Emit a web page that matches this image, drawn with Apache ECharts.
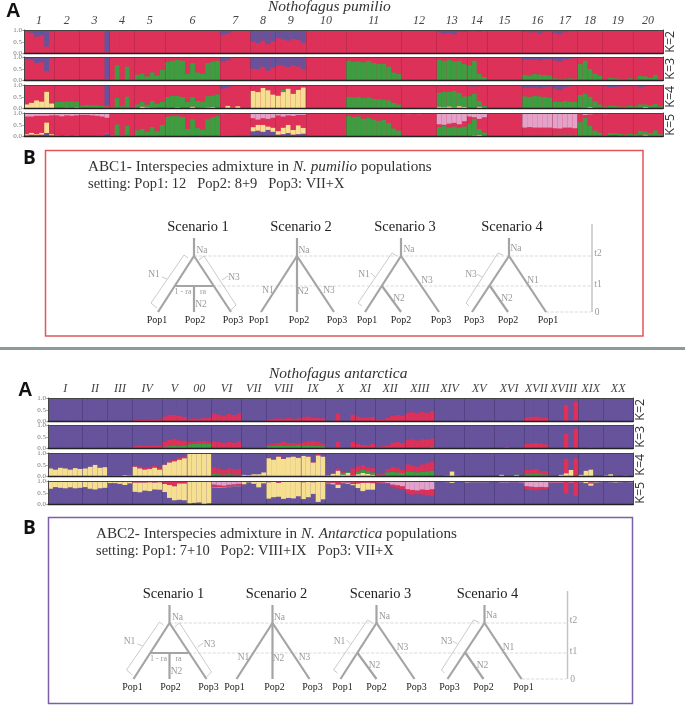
<!DOCTYPE html>
<html><head><meta charset="utf-8"><style>html,body{margin:0;padding:0;background:#fff}#c{width:685px;height:705px}</style>
<script src="https://cdn.jsdelivr.net/npm/echarts@6/dist/echarts.min.js"></script></head><body><div id="c"></div>
<script>
const RED='#DD3159',PUR='#66539B',GRN='#3E9C41',YEL='#F6DF90',PNK='#E3A2C8';
const topNames=['1','2','3','4','5','6','7','8','9','10','11','12','13','14','15','16','17','18','19','20'];
const topSizes=[6,5,6,5,6,11,6,5,6,8,11,7,6,4,7,6,5,5,6,6];
const botNames=['I','II','III','IV','V','00','VI','VII','VIII','IX','X','XI','XII','XIII','XIV','XV','XVI','XVII','XVIII','XIX','XX'];
const botSizes=[7,5,5,6,5,5,6,5,7,5,6,4,6,6,6,6,6,5,6,5,6];

// N. pumilio, percent per sample, by population (a lone number = the same for the whole population)
const t2Purple=[[8,12,28,22,70,6],[2,1,2,1,2],[2,2,3,2,3,92],[3,2,2,1,2],[2,1,1,2,1,1],[3,2,2,3,1,2,1,2,1,2,3],[20,15,6,4,2,3],[50,55,45,60,48],[35,40,45,38,42,55],0,0,0,[10,15,12,18,8,9],[6,5,8,4],0,[8,10,9,14,7,6],[12,18,9,6,5],[2,3,2,2,1],[2,3,2,2,2,3],[2,5,3,2,2,3]];
const t3Green=[0,0,0,[5,65,4,60,5],[25,30,18,35,22,45],[80,85,88,85,30,75,35,30,75,82,85],0,0,0,0,[85,80,82,78,84,75,70,72,60,35,28],0,[88,85,90,82,85,70],[65,85,30,15],0,[25,22,28,26,24,22],[10,8,9,10,8],[70,85,50,30,20],[5,12,10,8,6,10],[8,20,18,12,25,8]];
const t3Purple=[[10,12,25,22,60,6],[2,1,2,1,2],[2,2,3,2,3,92],[2,2,1,2,1],1,1,[20,14,5,3,2,2],[50,52,42,58,46],[35,38,42,36,40,52],0,0,0,0,0,0,[10,12,10,14,9,8],[14,20,10,7,5],[2,2,1,1,1],[2,2,2,1,2,2],[2,6,3,2,2,3]];
const t4Yellow=[[18,25,35,30,72,22],[3,2,4,3,5],[1,1,1,2,1,3],[2,1,2,1,1],[3,8,5,4,3,3],[4,3,5,2,3,8,2,4,5,6,3],[3,12,4,10,3,3],[75,70,88,78,60],[55,70,85,62,80,90],0,0,[1,2,2,3,2,3,2],[8,6,9,5,10,7],[3,2,8,4],0,2,2,[3,4,6,3,2],[1,1,1,1,2,1],[2,3,6,2,2,2]];
const t4Green=[0,[25,28,26,28,25],[12,14,13,12,10,5],[6,45,8,50,5],[15,22,12,28,18,25],[45,52,50,48,25,42,30,25,48,50,58],0,0,[0,10,0,5,0,0],[1,1,2,2,2,2,2,2],[50,48,50,45,48,42,40,38,35,25,18],[1,1,0,0,1,0,0],[60,65,62,70,58,45],[50,60,25,8],0,[50,48,52,50,48,45],[28,26,30,28,26],[55,60,45,28,16],[8,12,10,8,7,10],[8,15,12,12,18,8]];
const t4Purple=[[4,5,3,3,4,3],0,[3,4,5,4,5,85],[2,1,1,1,1],0,0,[15,10,3,2,1,1],0,0,0,0,0,0,[6,6,5,4],0,[10,12,10,14,8,6],[15,22,10,6,4],1,[6,10,8,6,5,5],[4,10,5,3,3,4]];
const t5Purple=[[5,8,6,8,15,5],2,[1,1,1,2,2,12],1,0,0,[5,4,3,2,2,2],[22,25,20,28,20],[8,10,15,8,10,12],0,0,0,0,[3,4,3,5],0,4,3,1,[3,5,6,3,3,3],[3,6,4,3,4,3]];
const t5Yellow=[[5,8,4,8,45,5],[2,1,2,1,2],1,1,[2,1,2,1,1,1],2,1,[18,25,30,15,18],[15,28,35,20,38,25],0,[2,1,2,1,1,1,0,1,0,0,0],0,3,[1,2,4,1],0,0,0,0,0,[1,1,4,1,1,1]];
const t5Green=[0,0,0,[5,50,6,45,4],[25,32,18,40,22,48],[82,85,85,82,30,72,34,28,72,80,85],0,0,0,0,[85,82,84,75,80,72,68,70,58,35,26],0,[38,42,36,40,36,40],[50,70,25,12],0,[3,3,4,3,3,3],[5,5,6,5,5],[60,80,45,25,16],[4,10,10,8,6,8],[6,18,14,12,22,6]];
const t5Pink=[[15,15,12,12,12,10],[10,14,10,12,10],[8,8,10,12,15,20],2,2,[3,2,4,2,2,3,2,3,2,3,3],[5,4,3,4,4,3],[22,28,22,25,20],[10,15,10,12,8,8],[0,0,0,3,0,2,0,0],2,[3,5,4,5,3,2,0],[48,50,45,42,48,35],[15,18,25,18],0,[62,60,62,62,62,62],[65,66,62,62,65],[4,8,6,4,3],[5,4,3,3,4,3],[2,4,3,2,3,2]];

// N. antarctica
const b2Red=[0,0,[0,0,0,1,1],[6,8,7,8,9,8],[22,30,28,25,20],[12,14,12,15,16],[35,30,25,32,28,35],0,[10,12,14,12,15,12,14],[18,22,16,15,14],[2,5,35,3,3,30],[22,18,16,20],[8,9,15,25,28,25],[38,40,36,42,38,45],0,[0,2,2,0,3,1],[0,0,3,0,0,0],[18,20,22,18,17],[0,0,0,72,0,85],[0,0,5,0,1],[0,0,0,1,1,2]];
const b3Green=[0,[0,0,2,0,0],0,0,[8,10,12,10,12],[18,20,20,22,20],1,0,[10,12,13,12,12,13,14],[12,13,12,12,10],0,0,0,[0,0,0,0,3,8],0,0,[0,0,6,0,0,0],0,0,0,0];
const b3Red=[0,0,[0,0,0,2,4],[10,14,12,12,14,12],[20,28,30,25,22],[10,10,12,12,9],[30,28,24,28,25,30],[0,0,1,2,0],[8,10,12,18,12,10,8],[15,18,20,18,10],[2,4,30,3,3,30],[20,16,14,20],[8,10,14,25,28,25],[36,40,35,40,36,35],0,[4,5,4,3,5,2],[0,0,2,0,0,0],[20,22,24,20,18],[0,0,0,62,0,85],[0,0,8,0,1],[0,1,1,1,2,2]];
const b4Yellow=[[35,30,38,35,30,36,32],[35,42,50,38,40],[4,4,4,6,5],[42,35,30,32,38,30],[50,60,65,72,78],98,0,[8,6,10,10,18],[78,72,85,75,82,85,80],[88,85,60,90,85],[5,12,25,8,15,5],[10,15,12,8],[0,0,3,0,0,0],0,[3,3,4,22,4,3],1,[2,8,2,3,6,2],0,[3,2,8,14,28,3],[8,25,30,2,2],[5,10,3,2,4,2]];
const b4Green=[0,0,0,0,0,0,[12,10,8,10,9,8],0,0,0,[0,0,0,8,4,0],[12,14,12,10],[8,8,15,20,18,15],[22,20,18,20,22,25],0,[0,1,0,0,0,0],[0,0,0,0,3,0],[10,10,12,10,9],0,0,0];
const b4Red=[0,0,0,[5,8,8,8,7,8],[2,8,5,10,8],1,[28,25,20,25,22,25],0,[2,1,3,2,2,1,1],[2,1,2,5,1],[2,5,10,3,2,30],[22,20,15,18],[5,6,14,22,18,15],[30,28,25,32,35,38],0,[6,5,4,3,3,2],0,[18,20,20,15,15],[0,2,0,62,0,75],[0,0,2,0,0],0];
const b5Yellow=[[32,25,28,30,26,30,28],[25,32,35,30,28],[8,8,10,14,8],[40,42,35,38,30,32],[35,55,60,70,72],[92,90,88,95,92],2,[12,4,10,25,8],[70,65,60,72,68,70,62],[72,65,50,85,75],[3,5,15,3,3,5],[20,35,30,28],[1,1,0,0,0,0],0,[3,3,5,8,3,2],2,0,0,0,[2,6,10,2,1],2];
const b5Red=[0,0,[0,0,1,2,1],[4,4,4,3,4,3],[8,15,20,8,8],2,[10,8,5,8,6,8],0,[4,3,6,3,3,3,2],[4,3,4,3,2],[3,4,12,3,3,8],[6,5,4,5],[3,3,5,10,14,12],[18,20,16,22,24,28],0,[3,2,2,2,2,1],0,[12,14,14,10,8],[2,2,2,50,3,60],[0,0,5,0,0],0];
const b5Pink=[1,1,1,2,[4,2,2,2,2],1,[15,18,20,16,14,12],2,1,1,[4,5,3,3,6,5],[4,3,3,4],[4,5,8,15,18,22],[35,38,40,36,38,35],[1,1,0,0,0,0],1,[4,6,6,5,5,6],[22,24,26,25,26],[6,6,6,4,6,4],[3,3,5,4,4],[2,3,4,3,2,3]];

// Scenario trees: x along the diagram, y = time above the present
const t1=26,t2=56,rootTop=74,axisTop=88;
const branches=[
 [[74,rootTop],[74,t2]],[[74,t2],[38,0]],[[74,t2],[111,0]],[[55,t1],[93,t1]],[[74,t1],[74,0]],
 [[177,rootTop],[177,0]],[[177,t2],[141,0]],[[177,t2],[214,0]],
 [[281,rootTop],[281,t2]],[[281,t2],[245,0]],[[262,t1],[281,0]],[[281,t2],[319,0]],
 [[389,rootTop],[389,t2]],[[389,t2],[352,0]],[[370,t1],[388,0]],[[389,t2],[426,0]]];
const brackets=[
 [[68,54],[64,57],[31,9],[37,4]],[[42,35],[47,33]],[[79,52],[84,56],[116,7],[111,2]],[[102,32],[108,36]],
 [[277,56],[272,59],[238,9],[242,6]],[[251,39],[255,35]],
 [[383,57],[378,59],[346,9],[349,6]],[[357,38],[362,35]]];
const timeGuides=[[[74,t2],[471,t2]],[[93,t1],[471,t1]],[[426,0],[471,0]]];
const timeAxis=[[[472,axisTop],[472,0]]];
const smallLabels=[['Na',82,62],['N1',34,38],['N3',114,35],['N2',81,8],['Na',184,62],['N1',148,22],['N2',183,21],['N3',209,22],
 ['Na',289,63],['N1',244,38],['N3',307,32],['N2',279,14],['Na',396,64],['N3',351,38],['N1',413,32],['N2',387,14],['t2',478,59],['t1',478,28],['0',477,0]];
const raLabels=[['1 - ra',63,20],['ra',83,20]];
const popLabels=[['Pop1',37,-8],['Pop2',75,-8],['Pop3',113,-8],['Pop1',139,-8],['Pop2',179,-8],['Pop3',217,-8],['Pop1',247,-8],['Pop2',281,-8],['Pop3',321,-8],['Pop3',354,-8],['Pop2',388,-8],['Pop1',428,-8]];
const scenarioTitles=[['Scenario 1',78,85],['Scenario 2',181,85],['Scenario 3',285,85],['Scenario 4',392,85]];

const expand=(pops,sizes)=>pops.flatMap((p,i)=>Array.from({length:sizes[i]},(_,j)=>Array.isArray(p)?(p[j]??p[p.length-1]):p));
const SERIF='"Liberation Serif",serif';
const grid=[],xAxis=[],yAxis=[],series=[];
function panel(left,top,width,sizes,names,stack,kName,bg,sep,showNames){
  const g=grid.length,n=sizes.reduce((a,b)=>a+b,0);
  grid.push({left,top,width,height:23.5,show:true,backgroundColor:bg,borderWidth:0});
  let c=0;const edges=new Set(),centers=[];
  sizes.forEach(s=>{centers.push(c+s/2);c+=s;edges.add(c)});
  const xa=xAxis.length,ya=yAxis.length;
  xAxis.push({gridIndex:g,type:'category',data:Array.from({length:n},(_,i)=>i),z:10,
    axisLine:{show:true,lineStyle:{color:'#222',width:1.4}},axisTick:{show:false},axisLabel:{show:false},
    splitLine:{show:true,interval:i=>edges.has(i),lineStyle:{color:sep,width:1}}});
  xAxis.push({gridIndex:g,type:'value',position:'top',min:0,max:n,z:10,splitLine:{show:false},axisTick:{show:false},
    axisLine:{show:true,onZero:false,lineStyle:{color:'#444',width:1.2}},
    axisLabel:{show:showNames,customValues:centers,margin:3,color:'#444',fontFamily:SERIF,fontStyle:'italic',fontSize:12,formatter:v=>names[centers.indexOf(v)]}});
  yAxis.push({gridIndex:g,type:'value',min:0,max:100,interval:50,z:10,splitLine:{show:false},
    axisLine:{show:true,onZero:false,lineStyle:{color:'#444',width:1}},axisTick:{show:true,length:2,lineStyle:{color:'#888',width:.6}},
    axisLabel:{margin:2,fontSize:7,color:'#777',fontFamily:SERIF,formatter:v=>(v/100).toFixed(1)}});
  yAxis.push({gridIndex:g,type:'value',position:'right',min:0,max:100,z:10,splitLine:{show:false},axisTick:{show:false},axisLabel:{show:false},
    axisLine:{show:true,onZero:false,lineStyle:{color:'#444',width:1}},
    name:kName,nameLocation:'middle',nameRotate:90,nameGap:1,nameTextStyle:{fontFamily:'"Open Sans"',fontSize:12.5,color:'#333'}});
  const arrs=stack.map(([col,a])=>a?expand(a,sizes):null);
  const rest=Array.from({length:n},(_,i)=>Math.max(0,100-arrs.reduce((t,a)=>t+(a?a[i]:0),0)));
  stack.forEach(([col],k)=>series.push({type:'bar',xAxisIndex:xa,yAxisIndex:ya,stack:'p'+g,barWidth:'100%',barCategoryGap:0,
    itemStyle:{color:col},data:arrs[k]||rest,silent:true}));
}
const T=[30,57,85,113],B=[398,425,453,481];
const topStacks=[[[RED],[PUR,t2Purple]],[[GRN,t3Green],[RED],[PUR,t3Purple]],[[YEL,t4Yellow],[GRN,t4Green],[RED],[PUR,t4Purple]],[[PUR,t5Purple],[YEL,t5Yellow],[GRN,t5Green],[RED],[PNK,t5Pink]]];
const botStacks=[[[RED,b2Red],[PUR]],[[GRN,b3Green],[RED,b3Red],[PUR]],[[YEL,b4Yellow],[GRN,b4Green],[RED,b4Red],[PUR]],[[PUR],[YEL,b5Yellow],[RED,b5Red],[PNK,b5Pink]]];
topStacks.forEach((s,i)=>panel(24,T[i],640,topSizes,topNames,s,'K='+(i+2),RED,'rgba(130,30,60,.3)',i===0));
botStacks.forEach((s,i)=>panel(48,B[i],585,botSizes,botNames,s,'K='+(i+2),PUR,'rgba(50,40,90,.35)',i===0));

function diagram(left,top){
  const g=grid.length,xa=xAxis.length,ya=yAxis.length;
  grid.push({left,top,width:480,height:90,show:false});
  xAxis.push({gridIndex:g,type:'value',min:0,max:480,show:false});
  yAxis.push({gridIndex:g,type:'value',min:0,max:90,show:false});
  const lines=(d,style)=>series.push({type:'lines',coordinateSystem:'cartesian2d',xAxisIndex:xa,yAxisIndex:ya,polyline:true,silent:true,clip:false,
    lineStyle:style,data:d.map(coords=>({coords}))});
  lines(timeGuides,{color:'#d0d0d0',width:.8,type:'dashed',opacity:1});
  lines(brackets,{color:'#bdbdbd',width:.8,opacity:1});
  lines(timeAxis,{color:'#c4c4c4',width:1.5,opacity:1});
  lines(branches,{color:'#a4a4a6',width:2.2,opacity:1});
  const labels=(d,st)=>series.push({type:'scatter',xAxisIndex:xa,yAxisIndex:ya,symbolSize:0,silent:true,clip:false,itemStyle:{opacity:1},
    data:d.map(([t,x,y])=>[x,y,t]),encode:{x:0,y:1},label:{show:true,position:'inside',opacity:1,formatter:p=>p.value[2],fontFamily:SERIF,...st}});
  labels(smallLabels,{fontSize:9.5,color:'#9a9a9a'});
  labels(raLabels,{fontSize:8,color:'#9a9a9a'});
  labels(popLabels,{fontSize:10,color:'#222'});
  labels(scenarioTitles,{fontSize:14.5,color:'#222'});
}
diagram(120,222);diagram(95.5,589);

const text=(x,y,t,o)=>({type:'text',x,y,z:20,silent:true,style:Object.assign({text:t,fontFamily:SERIF,fontSize:14.5,fill:'#333',textVerticalAlign:'middle'},o)});
const box=(x,y,w,h,c)=>({type:'rect',z:1,silent:true,shape:{x,y,width:w,height:h},style:{fill:'none',stroke:c,lineWidth:1.5}});
const rich={i:{fontFamily:SERIF,fontStyle:'italic',fontSize:15.2,fill:'#333'}};
const graphic=[
 {type:'rect',silent:true,shape:{x:0,y:347,width:685,height:3},style:{fill:'#8e9a9a'}},
 box(45.5,150.5,597.5,185.5,'#E0565B'),box(48.5,517.5,584,186,'#7D5FA8'),
 text(6,11,'A',{fontFamily:'"Liberation Sans"',fontWeight:'bold',fontSize:20,fill:'#111'}),
 text(18,390,'A',{fontFamily:'"Liberation Sans"',fontWeight:'bold',fontSize:20,fill:'#111'}),
 text(23,159,'B',{fontFamily:'"Open Sans"',fontWeight:'bold',fontSize:19,fill:'#111'}),
 text(23,529,'B',{fontFamily:'"Open Sans"',fontWeight:'bold',fontSize:19,fill:'#111'}),
 text(268,7,'Nothofagus pumilio',{fontStyle:'italic',fontSize:15.5}),
 text(269,374,'Nothofagus antarctica',{fontStyle:'italic',fontSize:15.5}),
 text(88,167,'ABC1- Interspecies admixture in {i|N. pumilio} populations',{rich,fontSize:15.2}),
 text(88,184,'setting: Pop1: 12   Pop2: 8+9   Pop3: VII+X',{}),
 text(96,534,'ABC2- Interspecies admixture in {i|N. Antarctica} populations',{rich,fontSize:15.2}),
 text(96,551,'setting: Pop1: 7+10   Pop2: VIII+IX   Pop3: VII+X',{})
];
const chart=echarts.init(document.getElementById('c'),null,{renderer:'canvas'});
chart.setOption({animation:false,grid,xAxis,yAxis,series,graphic});
</script></body></html>
